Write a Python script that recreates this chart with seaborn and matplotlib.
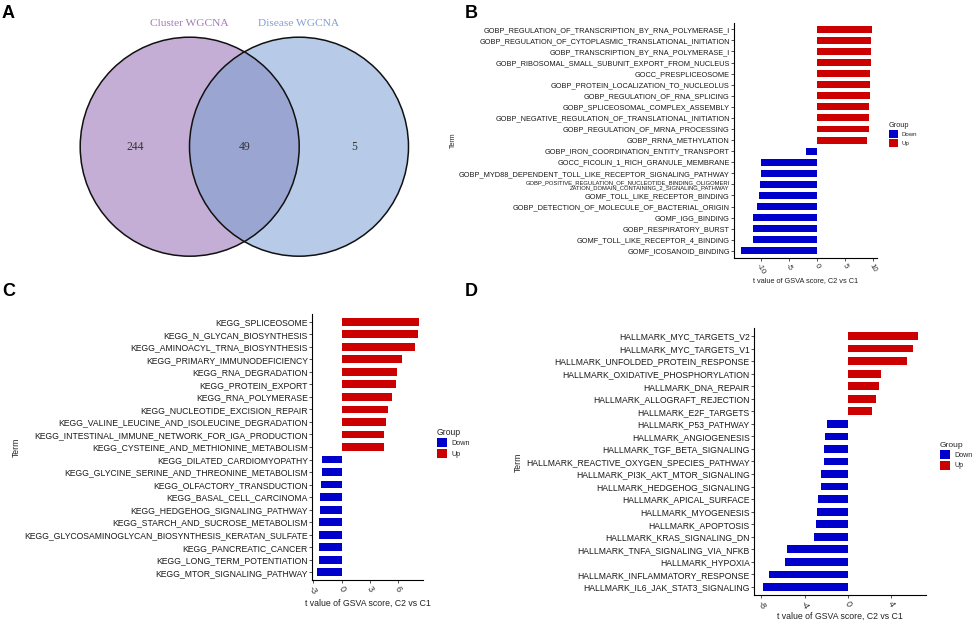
import numpy as np
import pandas as pd
import matplotlib
matplotlib.use("Agg")
import matplotlib.pyplot as plt
import seaborn as sns
from matplotlib.patches import Circle, Patch

sns.set_theme(style="ticks")
plt.rcParams["font.family"] = ["Liberation Sans", "DejaVu Sans"]

# ---------------- data ----------------
venn_sets = ["Cluster WGCNA", "Disease WGCNA"]
venn_counts = [244, 49, 5]  # only left, both, only right

b_terms = [
    "GOBP_REGULATION_OF_TRANSCRIPTION_BY_RNA_POLYMERASE_I",
    "GOBP_REGULATION_OF_CYTOPLASMIC_TRANSLATIONAL_INITIATION",
    "GOBP_TRANSCRIPTION_BY_RNA_POLYMERASE_I",
    "GOBP_RIBOSOMAL_SMALL_SUBUNIT_EXPORT_FROM_NUCLEUS",
    "GOCC_PRESPLICEOSOME",
    "GOBP_PROTEIN_LOCALIZATION_TO_NUCLEOLUS",
    "GOBP_REGULATION_OF_RNA_SPLICING",
    "GOBP_SPLICEOSOMAL_COMPLEX_ASSEMBLY",
    "GOBP_NEGATIVE_REGULATION_OF_TRANSLATIONAL_INITIATION",
    "GOBP_REGULATION_OF_MRNA_PROCESSING",
    "GOBP_RRNA_METHYLATION",
    "GOBP_IRON_COORDINATION_ENTITY_TRANSPORT",
    "GOCC_FICOLIN_1_RICH_GRANULE_MEMBRANE",
    "GOBP_MYD88_DEPENDENT_TOLL_LIKE_RECEPTOR_SIGNALING_PATHWAY",
    "GOBP_POSITIVE_REGULATION_OF_NUCLEOTIDE_BINDING_OLIGOMERIZATION_DOMAIN_CONTAINING_2_SIGNALING_PATHWAY",
    "GOMF_TOLL_LIKE_RECEPTOR_BINDING",
    "GOBP_DETECTION_OF_MOLECULE_OF_BACTERIAL_ORIGIN",
    "GOMF_IGG_BINDING",
    "GOBP_RESPIRATORY_BURST",
    "GOMF_TOLL_LIKE_RECEPTOR_4_BINDING",
    "GOMF_ICOSANOID_BINDING",
]
b_t = [9.8, 9.75, 9.7, 9.65, 9.55, 9.45, 9.45, 9.4, 9.3, 9.3, 9.05,
       -1.9, -9.9, -10.0, -10.1, -10.35, -10.7, -11.3, -11.4, -11.4, -13.45]

c_terms = [
    "KEGG_SPLICEOSOME",
    "KEGG_N_GLYCAN_BIOSYNTHESIS",
    "KEGG_AMINOACYL_TRNA_BIOSYNTHESIS",
    "KEGG_PRIMARY_IMMUNODEFICIENCY",
    "KEGG_RNA_DEGRADATION",
    "KEGG_PROTEIN_EXPORT",
    "KEGG_RNA_POLYMERASE",
    "KEGG_NUCLEOTIDE_EXCISION_REPAIR",
    "KEGG_VALINE_LEUCINE_AND_ISOLEUCINE_DEGRADATION",
    "KEGG_INTESTINAL_IMMUNE_NETWORK_FOR_IGA_PRODUCTION",
    "KEGG_CYSTEINE_AND_METHIONINE_METABOLISM",
    "KEGG_DILATED_CARDIOMYOPATHY",
    "KEGG_GLYCINE_SERINE_AND_THREONINE_METABOLISM",
    "KEGG_OLFACTORY_TRANSDUCTION",
    "KEGG_BASAL_CELL_CARCINOMA",
    "KEGG_HEDGEHOG_SIGNALING_PATHWAY",
    "KEGG_STARCH_AND_SUCROSE_METABOLISM",
    "KEGG_GLYCOSAMINOGLYCAN_BIOSYNTHESIS_KERATAN_SULFATE",
    "KEGG_PANCREATIC_CANCER",
    "KEGG_LONG_TERM_POTENTIATION",
    "KEGG_MTOR_SIGNALING_PATHWAY",
]
c_t = [8.15, 8.08, 7.77, 6.35, 5.86, 5.72, 5.33, 4.94, 4.7, 4.52, 4.48,
       -2.08, -2.12, -2.19, -2.26, -2.33, -2.36, -2.4, -2.4, -2.43, -2.58]

d_terms = [
    "HALLMARK_MYC_TARGETS_V2",
    "HALLMARK_MYC_TARGETS_V1",
    "HALLMARK_UNFOLDED_PROTEIN_RESPONSE",
    "HALLMARK_OXIDATIVE_PHOSPHORYLATION",
    "HALLMARK_DNA_REPAIR",
    "HALLMARK_ALLOGRAFT_REJECTION",
    "HALLMARK_E2F_TARGETS",
    "HALLMARK_P53_PATHWAY",
    "HALLMARK_ANGIOGENESIS",
    "HALLMARK_TGF_BETA_SIGNALING",
    "HALLMARK_REACTIVE_OXYGEN_SPECIES_PATHWAY",
    "HALLMARK_PI3K_AKT_MTOR_SIGNALING",
    "HALLMARK_HEDGEHOG_SIGNALING",
    "HALLMARK_APICAL_SURFACE",
    "HALLMARK_MYOGENESIS",
    "HALLMARK_APOPTOSIS",
    "HALLMARK_KRAS_SIGNALING_DN",
    "HALLMARK_TNFA_SIGNALING_VIA_NFKB",
    "HALLMARK_HYPOXIA",
    "HALLMARK_INFLAMMATORY_RESPONSE",
    "HALLMARK_IL6_JAK_STAT3_SIGNALING",
]
d_t = [6.46, 5.97, 5.48, 3.05, 2.83, 2.62, 2.22,
       -1.91, -2.09, -2.18, -2.25, -2.46, -2.46, -2.74, -2.83, -2.95, -3.1,
       -5.66, -5.78, -7.29, -7.88]

group_order = ["Down", "Up"]
group_colors = {"Down": "#0000CC", "Up": "#CC0000"}
x_title = "t value of GSVA score, C2 vs C1"

# ---------------- layout helpers ----------------
W, H = 976, 623
fig = plt.figure(figsize=(W / 100, H / 100), dpi=100)


def rect(l, t, r, b):
    return [l / W, 1 - b / H, (r - l) / W, (b - t) / H]


def fx(x):
    return x / W


def fy(y):
    return 1 - y / H


# ---------------- panel letters ----------------
for letter, (lx, ly) in {"A": (2, 18), "B": (465, 18), "C": (2, 296), "D": (465, 296)}.items():
    fig.text(fx(lx), fy(ly), letter, fontsize=13, fontweight="bold", ha="left",
             va="baseline", color="black")

# ---------------- panel A : Venn ----------------
axA = fig.add_axes(rect(0, 0, 420, 300))
axA.set_xlim(0, 420)
axA.set_ylim(300, 0)
axA.set_aspect("equal")
axA.axis("off")
cy, rad = 146.7, 109.5
cxL, cxR = 189.7, 299.0
colL, colR, colO = "#C5AED5", "#B7CBE8", "#9BA5D1"
cL = Circle((cxL, cy), rad, facecolor=colL, edgecolor="none")
cR = Circle((cxR, cy), rad, facecolor=colR, edgecolor="none")
axA.add_patch(cL)
axA.add_patch(cR)
cO = Circle((cxR, cy), rad, facecolor=colO, edgecolor="none")
axA.add_patch(cO)
cO.set_clip_path(cL)
for cx in (cxL, cxR):
    axA.add_patch(Circle((cx, cy), rad, facecolor="none", edgecolor="#111111", lw=1.1))
serif = ["Liberation Serif", "DejaVu Serif"]
axA.text(cxL, 24, venn_sets[0], color="#A47AB8", fontsize=8.2, family=serif,
         ha="center", va="center")
axA.text(cxR, 24, venn_sets[1], color="#7F9FD3", fontsize=8.2, family=serif,
         ha="center", va="center")
pos = [((cxL - rad) + (cxR - rad)) / 2, (cxL + cxR) / 2, ((cxL + rad) + (cxR + rad)) / 2]
for p, n in zip(pos, venn_counts):
    axA.text(p, cy, str(n), fontsize=8.4, family=serif, color="#333333",
             ha="center", va="center")


# ---------------- GSVA bar panels ----------------
def gsva_panel(box, terms, tvals, xlim, xticks, fs, xfs, legend_xy, leg_fs,
               term_xy, term_fs, title_fs, title_y):
    l, t, r, b = box
    ax = fig.add_axes(rect(l, t, r, b))
    df = pd.DataFrame({"Term": terms, "t": tvals})
    df["Group"] = np.where(df["t"] > 0, "Up", "Down")
    sns.barplot(data=df, x="t", y="Term", hue="Group", hue_order=group_order,
                order=terms, palette=group_colors, dodge=False, width=0.62,
                saturation=1, linewidth=0, legend=False, ax=ax)
    ax.set_xlim(*xlim)
    ax.set_ylim(len(terms) - 0.4, -0.6)
    ax.set_xticks(xticks)
    ax.set_xticklabels([str(v) for v in xticks])
    ax.set_xlabel("")
    ax.set_ylabel("")
    for s in ("top", "right"):
        ax.spines[s].set_visible(False)
    for s in ("left", "bottom"):
        ax.spines[s].set_linewidth(0.8)
        ax.spines[s].set_color("black")
    ax.tick_params(axis="y", length=2, width=0.6, pad=1.2, labelsize=fs,
                   labelcolor="#1a1a1a", color="#333333")
    ax.tick_params(axis="x", length=2, width=0.6, pad=1.5, labelsize=xfs,
                   labelcolor="#333333", color="#333333", labelrotation=-60)
    labels, sizes = [], []
    for txt in terms:
        if len(txt) > 70:
            labels.append(txt[:56] + "\n" + txt[56:])
            sizes.append(fs * 0.8)
        else:
            labels.append(txt)
            sizes.append(fs)
    ax.set_yticks(range(len(terms)))
    ax.set_yticklabels(labels)
    for tl, sz in zip(ax.get_yticklabels(), sizes):
        tl.set_fontsize(sz)
        tl.set_multialignment("right")
        tl.set_linespacing(1.1)
    handles = [Patch(facecolor=group_colors[g], edgecolor="none", label=g) for g in group_order]
    leg = ax.legend(handles=handles, title="Group", loc="upper left",
                    bbox_to_anchor=(fx(legend_xy[0]), fy(legend_xy[1])),
                    bbox_transform=fig.transFigure, frameon=False,
                    fontsize=leg_fs, title_fontsize=leg_fs * 1.2,
                    handlelength=1.45, handleheight=1.55, labelspacing=0.2,
                    handletextpad=0.6, borderpad=0, borderaxespad=0)
    leg._legend_box.align = "left"
    fig.text(fx(term_xy[0]), fy(term_xy[1]), "Term", rotation=90, fontsize=term_fs,
             ha="center", va="center", color="#222222")
    fig.text(fx((l + r) / 2), fy(title_y), x_title, fontsize=title_fs,
             ha="center", va="center", color="#222222")
    return ax


gsva_panel((734.3, 22.65, 877.3, 257.5), b_terms, b_t, (-14.7, 10.8),
           [-10, -5, 0, 5, 10], 5.3, 5.6, (889, 122), 4.4, (453, 140), 5.0, 5.3, 281)
gsva_panel((312.3, 314.2, 423.3, 579.8), c_terms, c_t, (-3.1, 8.65),
           [-3, 0, 3, 6], 6.25, 6.5, (436.5, 428), 5.2, (16, 447), 6.2, 6.3, 603)
gsva_panel((754.3, 328.5, 926.0, 594.5), d_terms, d_t, (-8.65, 7.2),
           [-8, -4, 0, 4], 6.25, 6.5, (939.5, 442), 5.1, (518, 462), 6.2, 6.3, 616)

fig.savefig("out.png", dpi=100)
